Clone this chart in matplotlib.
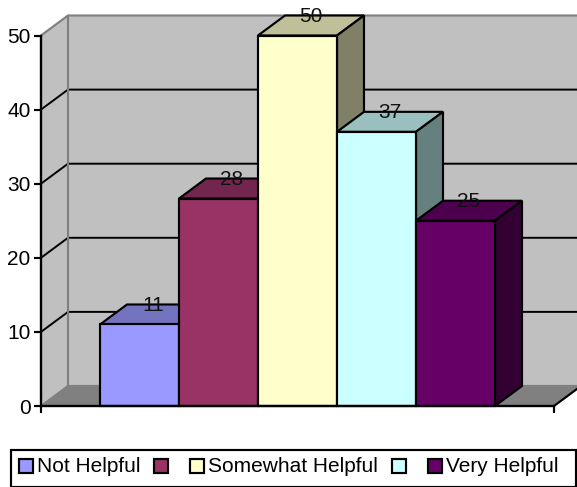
import matplotlib
matplotlib.use("Agg")
import matplotlib.pyplot as plt
from matplotlib.colors import to_rgb
from matplotlib.patches import Polygon, Rectangle

plt.rcParams['font.family'] = ['Liberation Sans', 'DejaVu Sans']

categories = ["Not Helpful", "", "Somewhat Helpful", "", "Very Helpful"]
values = [11, 28, 50, 37, 25]
colors = ["#9999FF", "#993366", "#FFFFCC", "#CCFFFF", "#660066"]
yticks = [0, 10, 20, 30, 40, 50]

W, H = 577, 487
FS = 15
LW = 1.55

fig = plt.figure(figsize=(W / 100, H / 100), dpi=100, facecolor="white")
ax = fig.add_axes([41 / W, (H - 406) / H, 513 / W, 370.5 / H])
ax.set_xlim(-1.247, 5.247)
ax.set_ylim(0, 50)
ax.patch.set_visible(False)

# depth of the fake 3d box, in data units
dx = 27 / 79
dy = 20 / 7.41
x0, x1 = ax.get_xlim()
ymax = yticks[-1]


def shade(color, f):
    return tuple(c * f for c in to_rgb(color))


# back wall, side wall and floor
ax.add_patch(Polygon([(x0 + dx, dy), (x1 + dx, dy), (x1 + dx, ymax + dy), (x0 + dx, ymax + dy)],
                     fc="#C0C0C0", ec="none", clip_on=False, zorder=1))
ax.add_patch(Polygon([(x0, 0), (x0 + dx, dy), (x0 + dx, ymax + dy), (x0, ymax)],
                     fc="#C0C0C0", ec="none", clip_on=False, zorder=1))
ax.add_patch(Polygon([(x0, 0), (x1, 0), (x1 + dx, dy), (x0 + dx, dy)],
                     fc="#808080", ec="none", clip_on=False, zorder=1))

# gridlines run along the side wall and the back wall
for t in yticks[1:-1]:
    ax.plot([x0, x0 + dx, x1 + dx], [t, t + dy, t + dy], color="black", lw=LW * 0.9,
            clip_on=False, zorder=2, solid_joinstyle="miter")

# wall edges
ax.plot([x0, x0 + dx, x1 + dx], [ymax, ymax + dy, ymax + dy], color="#808080", lw=LW,
        clip_on=False, zorder=2)
ax.plot([x0 + dx, x0 + dx], [dy, ymax + dy], color="#808080", lw=LW, clip_on=False, zorder=2)
ax.plot([x0, x0 + dx, x1 + dx], [0, dy, dy], color="#808080", lw=LW, clip_on=False, zorder=2)
ax.plot([x1, x1 + dx], [0, dy], color="black", lw=LW, clip_on=False, zorder=2)

# bars, left to right so each one overlaps the side of the previous one
for i, (v, c) in enumerate(zip(values, colors)):
    l, r = i - 0.5, i + 0.5
    z = 3 + i * 0.1
    ax.add_patch(Polygon([(l, v), (r, v), (r + dx, v + dy), (l + dx, v + dy)],
                         fc=shade(c, 0.75), ec="black", lw=LW, clip_on=False, zorder=z,
                         joinstyle="miter"))
    ax.add_patch(Polygon([(r, 0), (r + dx, dy), (r + dx, v + dy), (r, v)],
                         fc=shade(c, 0.5), ec="black", lw=LW, clip_on=False, zorder=z,
                         joinstyle="miter"))
    ax.add_patch(Rectangle((l, 0), 1, v, fc=c, ec="black", lw=LW, clip_on=False, zorder=z,
                           joinstyle="miter"))

for i, v in enumerate(values):
    ax.text(i + dx / 2, v + dy - 0.1, str(v), ha="center", va="center", fontsize=FS,
            color="#111111", zorder=5, clip_on=False)

ax.set_xticks([x0, x1])
ax.set_xticklabels([])
ax.set_yticks(yticks)
ax.set_yticklabels([str(t) for t in yticks], fontsize=FS)
ax.tick_params(axis="both", length=5, width=LW, direction="out", pad=2.5)
ax.spines["top"].set_visible(False)
ax.spines["right"].set_visible(False)
for s in ("left", "bottom"):
    ax.spines[s].set_linewidth(LW * 1.1)
    ax.spines[s].set_zorder(6)
    ax.spines[s].set_capstyle("projecting")

# legend box, laid out in pixels from the top left
def px(x, y):
    return x / W, 1 - y / H


def box(x, y, w, h, **kw):
    fx, fy = px(x, y + h)
    fig.add_artist(Rectangle((fx, fy), w / W, h / H, transform=fig.transFigure, **kw))


box(10.5, 449.5, 565, 37, fc="white", ec="black", lw=LW)

swatch_x = [18.5, 153.5, 189.5, 391.5, 427.5]
label_x = [37, None, 208, None, 446]
for sx, lx, c, name in zip(swatch_x, label_x, colors, categories):
    box(sx, 458.5, 14, 14, fc=c, ec="black", lw=LW)
    if name:
        fx, fy = px(lx, 466)
        fig.text(fx, fy, name, fontsize=FS, ha="left", va="center", color="black")

fig.savefig("out.png", dpi=100)
